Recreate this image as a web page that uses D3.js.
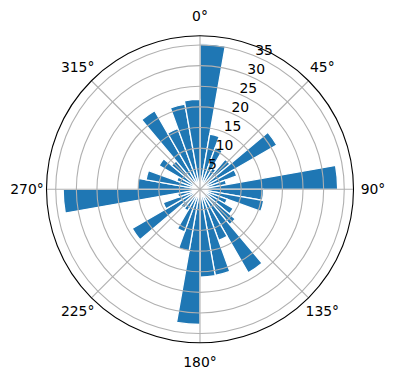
<!DOCTYPE html>
<html>
<head>
<meta charset="utf-8">
<script src="https://cdn.jsdelivr.net/npm/d3@7"></script>
<style>
  body { margin: 0; background: #fff; }
  text { font-family: "DejaVu Sans", sans-serif; font-size: 13.9px; fill: #000; }
</style>
</head>
<body>
<svg id="chart" width="396" height="380"></svg>
<script>
// direction bins (start angle, degrees clockwise from north), 10 degrees wide
var binStart = [0, 10, 20, 30, 40, 50, 60, 70, 80, 90, 100, 110,
                120, 130, 140, 150, 160, 170, 180, 190, 200, 210, 220, 230,
                240, 250, 260, 270, 280, 290, 300, 310, 320, 330, 340, 350];
var counts = [35.3, 13.6, 10.8, 6, 9.5, 21.5, 9.5, 6.5, 33.4, 15.4, 15.7, 7,
              9.3, 11.2, 23.4, 13.2, 21.2, 21.3, 32.8, 15.2, 11, 6, 6, 19,
              9.5, 5.5, 33.2, 15.2, 13.3, 6, 11.5, 9, 22, 15.7, 21, 21.8];
var binWidth = 10;
var rTicks = [5, 10, 15, 20, 25, 30, 35];
var angleTicks = [0, 45, 90, 135, 180, 225, 270, 315];

var cx = 200, cy = 189.3, R = 153.5;
var rad = Math.PI / 180;

var svg = d3.select("#chart");
var g = svg.append("g").attr("transform", "translate(" + cx + "," + cy + ")");

var r = d3.scaleLinear().domain([0, d3.max(counts) * 1.055]).range([0, R]);

var arc = d3.arc()
  .innerRadius(0)
  .outerRadius(function(d) { return r(d.v); })
  .startAngle(function(d) { return d.a * rad; })
  .endAngle(function(d) { return (d.a + binWidth) * rad; });

var bars = binStart.map(function(a, i) { return {a: a, v: counts[i]}; });

// bars first, grid goes on top of them (like matplotlib)
g.append("g").selectAll("path").data(bars).enter().append("path")
  .attr("d", arc)
  .style("fill", "#1f77b4")
  .style("stroke", "#fff")
  .style("stroke-width", 1.3);

// rings
g.append("g").selectAll("circle").data(rTicks).enter().append("circle")
  .attr("r", function(d) { return r(d); })
  .style("fill", "none").style("stroke", "#b0b0b0").style("stroke-width", 1.1);

// spokes
g.append("g").selectAll("line").data(angleTicks).enter().append("line")
  .attr("x1", 0).attr("y1", 0)
  .attr("x2", function(d) { return R * Math.sin(d * rad); })
  .attr("y2", function(d) { return -R * Math.cos(d * rad); })
  .style("stroke", "#b0b0b0").style("stroke-width", 1.1);

// outer frame
g.append("circle").attr("r", R)
  .style("fill", "none").style("stroke", "#000").style("stroke-width", 1.1);

// angle labels
var labR = 173;
g.append("g").selectAll("text").data(angleTicks).enter().append("text")
  .attr("x", function(d) { return labR * Math.sin(d * rad); })
  .attr("y", function(d) { return -labR * Math.cos(d * rad); })
  .attr("text-anchor", "middle")
  .attr("dy", "0.35em")
  .text(function(d) { return d + "\u00b0"; });

// radial tick labels at 22.5 deg
var ra = 22.5 * rad;
g.append("g").selectAll("text").data(rTicks).enter().append("text")
  .attr("x", function(d) { return r(d) * Math.sin(ra); })
  .attr("y", function(d) { return -r(d) * Math.cos(ra) - 1; })
  .attr("text-anchor", "start")
  .text(function(d) { return d; });
</script>
</body>
</html>
